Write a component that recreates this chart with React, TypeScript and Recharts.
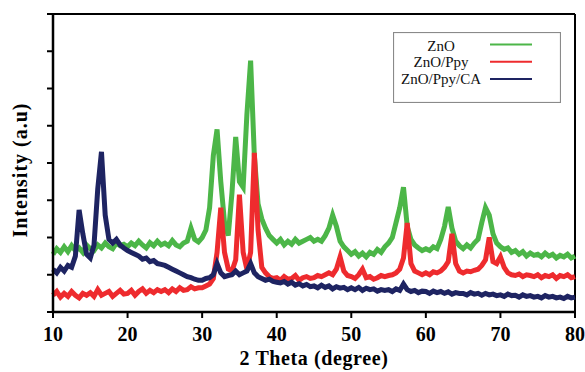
import React from 'react';
import { LineChart, Line, XAxis, YAxis, ReferenceLine } from 'recharts';

const xs: number[] = [];
for (let i = 0; i <= 140; i++) xs.push(10 + i * 0.5);

const znO: number[] = [
  1.55, 1.7, 1.6, 1.75, 1.62, 1.78, 1.65, 1.72, 1.6, 1.8,
  1.7, 1.65, 1.8, 1.72, 1.85, 1.75, 1.7, 1.85, 1.78, 1.82,
  1.75, 1.85, 1.78, 1.9, 1.8, 1.72, 1.86, 1.78, 1.9, 1.8,
  1.85, 1.78, 1.92, 1.8, 1.75, 1.85, 1.9, 2.25, 1.95, 1.88,
  2.0, 2.2, 2.8, 4.2, 4.9, 3.5, 2.4, 2.05, 3.2, 4.7,
  3.5, 3.35, 5.3, 6.75, 4.2, 2.9, 2.5, 2.25, 2.05, 1.95,
  1.85, 1.95, 1.8, 1.9, 1.82, 1.95, 1.85, 1.9, 1.95, 2.0,
  1.9, 1.95, 1.9, 2.05, 2.25, 2.6, 2.3, 1.9, 1.75, 1.65,
  1.55, 1.62, 1.5, 1.58, 1.48, 1.6, 1.55, 1.68, 1.6, 1.75,
  1.85, 2.0, 2.4, 2.8, 3.35, 2.3, 1.95, 1.8, 1.72, 1.65,
  1.7, 1.65, 1.75, 1.7, 1.95, 2.3, 2.82, 2.25, 1.9, 1.78,
  1.7, 1.8, 1.72, 1.85, 1.95, 2.4, 2.8, 2.6, 2.1, 1.85,
  1.75, 1.68, 1.72, 1.6, 1.65, 1.55, 1.62, 1.5, 1.58, 1.52,
  1.55, 1.48, 1.58, 1.5, 1.55, 1.45, 1.52, 1.48, 1.55, 1.45,
  1.5,
];

const znOPpy: number[] = [
  0.45, 0.55, 0.4, 0.5, 0.42, 0.55, 0.45, 0.38, 0.5, 0.45,
  0.52, 0.42, 0.6, 0.45, 0.5, 0.55, 0.42, 0.5, 0.58, 0.48,
  0.5, 0.58, 0.45, 0.55, 0.62, 0.5, 0.58, 0.52, 0.6, 0.55,
  0.6, 0.52, 0.62, 0.55, 0.65, 0.58, 0.6, 0.68, 0.62, 0.65,
  0.65, 0.7, 0.75, 0.9, 1.6, 2.8, 1.6, 1.15, 1.1, 1.4,
  3.15, 1.6, 1.15, 1.6, 4.27, 2.2, 1.2, 1.05, 0.95, 0.9,
  0.92, 0.85, 0.95, 0.88, 0.9, 0.98, 0.85, 0.92, 0.95, 0.9,
  0.92, 0.98, 0.95, 1.0, 1.05, 1.0, 1.15, 1.48, 1.1, 0.98,
  0.95, 0.9, 1.0, 1.15, 0.92, 0.95, 0.88, 0.92, 0.98, 0.95,
  0.98, 1.0, 1.05, 1.15, 1.45, 2.39, 1.3, 1.1, 1.05, 1.0,
  1.05, 1.0, 1.08, 1.05, 1.1, 1.2, 1.35, 2.1, 1.3, 1.1,
  1.05, 1.1, 1.08, 1.12, 1.15, 1.25, 1.4, 2.0, 1.35, 1.3,
  1.48, 1.2, 1.05, 1.0, 0.98, 1.02, 0.95, 1.0, 0.98, 0.95,
  1.0, 0.92, 0.98, 0.95, 1.0, 0.9, 0.98, 0.95, 1.0, 0.92,
  0.95,
];

const znOPpyCA: number[] = [
  1.15, 1.05, 1.2, 1.1, 1.25, 1.2, 1.5, 2.74, 2.1, 1.55,
  1.45, 1.8, 3.3, 4.3, 2.6, 1.95, 1.85, 1.95, 1.8, 1.72,
  1.65, 1.6, 1.55, 1.5, 1.42, 1.45, 1.35, 1.38, 1.3, 1.28,
  1.25, 1.2, 1.15, 1.1, 1.05, 1.0, 0.95, 0.92, 0.88, 0.85,
  0.85, 0.9, 0.92, 1.0, 1.3, 1.05, 0.95, 0.98, 1.0, 1.1,
  1.0, 1.05, 1.1, 1.3, 1.05, 0.95, 0.9, 0.85, 0.88, 0.82,
  0.8, 0.78, 0.82, 0.75, 0.8, 0.72, 0.76, 0.7, 0.74, 0.68,
  0.7, 0.65, 0.72, 0.66, 0.7, 0.62, 0.68, 0.64, 0.66, 0.6,
  0.65, 0.6, 0.66, 0.58, 0.64, 0.6, 0.62, 0.56, 0.6, 0.58,
  0.6, 0.55, 0.62, 0.58, 0.75, 0.6, 0.55, 0.58, 0.52, 0.56,
  0.55, 0.5, 0.56, 0.52, 0.55, 0.5, 0.54, 0.48, 0.52, 0.5,
  0.5, 0.46, 0.52, 0.48, 0.5, 0.45, 0.5, 0.46, 0.48, 0.44,
  0.46, 0.42, 0.48, 0.44, 0.45, 0.4, 0.46, 0.42, 0.44, 0.4,
  0.42, 0.38, 0.44, 0.4, 0.42, 0.38, 0.4, 0.36, 0.42, 0.38,
  0.4,
];

const xTicks = [10, 20, 30, 40, 50, 60, 70, 80];
const yTicks = [0, 1, 2, 3, 4, 5, 6, 7, 8];
const seriesNames = ['ZnO', 'ZnO/Ppy', 'ZnO/Ppy/CA'];
const colors = ['#4cb648', '#ee2b2e', '#1e2462'];
const xTitle = '2 Theta (degree)';
const yTitle = 'Intensity (a.u)';

const data = xs.map((x, i) => ({ x, a: znO[i], b: znOPpy[i], c: znOPpyCA[i] }));

const FONT = '"Liberation Serif", "Times New Roman", serif';

const LegendBox = () => (
  <svg width={168} height={71} style={{ display: 'block' }}>
    <rect x={0.5} y={0.5} width={167} height={70} fill="#fff" stroke="#8a8a8a" strokeWidth={1.2} />
    {seriesNames.map((n, i) => (
      <g key={n}>
        <text x={48} y={18.5 + i * 16.5} textAnchor="middle" fontFamily={FONT} fontSize={15} fill="#111">
          {n}
        </text>
        <line x1={97} x2={139} y1={12.5 + i * 17.2} y2={12.5 + i * 17.2} stroke={colors[i]} strokeWidth={2} />
      </g>
    ))}
  </svg>
);

const YTitle = () => (
  <text
    x={27}
    y={170}
    transform="rotate(-90 27 170)"
    textAnchor="middle"
    fontFamily={FONT}
    fontSize={20}
    fontWeight="bold"
    letterSpacing={1}
    fill="#000"
  >
    {yTitle}
  </text>
);

export default function App() {
  return (
    <div style={{ position: 'absolute', left: 0, top: 0, width: 585, height: 372, background: '#fff', fontFamily: FONT }}>
      <LineChart width={585} height={372} data={data} margin={{ top: 14, right: 10, left: 0, bottom: 0 }} style={{ fontFamily: FONT }}>
        <XAxis
          type="number"
          dataKey="x"
          domain={[10, 80]}
          ticks={xTicks}
          tick={{ fill: '#000', fontSize: 20, fontWeight: 'bold', style: { fontFamily: FONT } }}
          axisLine={{ stroke: '#000', strokeWidth: 2.5 }}
          tickLine={{ stroke: '#000', strokeWidth: 2 }}
          tickSize={6}
          tickMargin={9}
          height={60}
          label={{ value: xTitle, position: 'insideBottom', offset: 7, fill: '#000', fontSize: 20, fontWeight: 'bold', letterSpacing: 0.6, style: { fontFamily: FONT } }}
        />
        <YAxis
          type="number"
          domain={[0, 8]}
          ticks={yTicks}
          tickFormatter={() => ''}
          axisLine={{ stroke: '#000', strokeWidth: 2.5 }}
          tickLine={{ stroke: '#000', strokeWidth: 2 }}
          tickSize={6}
          width={53}
          label={{ content: () => <YTitle /> }}
        />
        <ReferenceLine y={8} stroke="#000" strokeWidth={2} />
        <ReferenceLine x={80} stroke="#000" strokeWidth={2} />
        <Line type="linear" dataKey="a" name={seriesNames[0]} stroke={colors[0]} strokeWidth={5} dot={false} isAnimationActive={false} />
        <Line type="linear" dataKey="b" name={seriesNames[1]} stroke={colors[1]} strokeWidth={5} dot={false} isAnimationActive={false} />
        <Line type="linear" dataKey="c" name={seriesNames[2]} stroke={colors[2]} strokeWidth={5} dot={false} isAnimationActive={false} />
      </LineChart>
      <div style={{ position: 'absolute', left: 393, top: 32 }}>
        <LegendBox />
      </div>
    </div>
  );
}
